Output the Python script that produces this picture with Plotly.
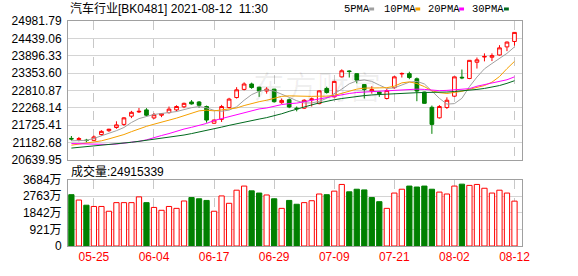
import plotly.graph_objects as go

dates = ["05-20", "05-21", "05-24", "05-25", "05-26", "05-27", "05-28", "05-31",
         "06-01", "06-02", "06-03", "06-04", "06-07", "06-08", "06-09", "06-10", "06-11",
         "06-15", "06-16", "06-17", "06-18", "06-21", "06-22", "06-23", "06-24", "06-25",
         "06-28", "06-29", "06-30", "07-01", "07-02", "07-05", "07-06", "07-07", "07-08",
         "07-09", "07-12", "07-13", "07-14", "07-15", "07-16", "07-19", "07-20", "07-21",
         "07-22", "07-23", "07-26", "07-27", "07-28", "07-29", "07-30", "08-02", "08-03",
         "08-04", "08-05", "08-06", "08-09", "08-10", "08-11", "08-12"]

opens = [21307.7, 21271.4, 21253.2, 21247.2, 21428.6, 21549.6, 21649.4, 21746.2, 22003.2, 22136.3,
         22199.8, 21948.8, 22033.4, 22115.1, 22199.8, 22296.5, 22447.7, 22447.7, 22305.6, 21782.4,
         21903.4, 22275.4, 22586.8, 22840.8, 23010.2, 22910.4, 22789.4, 22849.9, 22426.6, 22517.3,
         22254.2, 22254.2, 22517.3, 22396.3, 22871.1, 22608.0, 23234.0, 23418.4, 23333.8, 22992.0,
         22795.5, 22759.2, 22556.6, 22895.3, 23324.7, 23333.8, 23173.5, 22759.2, 22281.4, 21951.8,
         22275.4, 22629.2, 23221.9, 23182.6, 23690.6, 23853.9, 23847.8, 23917.4, 24171.4, 24340.8]
highs = [21383.3, 21353.0, 21292.6, 21398.4, 21564.7, 21610.1, 21842.9, 21973.0, 22169.5, 22260.2,
         22254.2, 22103.0, 22093.9, 22305.6, 22344.9, 22426.6, 22508.2, 22478.0, 22335.8, 21897.4,
         22357.0, 22577.8, 22910.4, 23061.6, 23052.5, 22925.5, 22910.4, 22859.0, 22556.6, 22556.6,
         22305.6, 22532.4, 22586.8, 22810.6, 22925.5, 23107.0, 23469.8, 23439.6, 23342.8, 23001.1,
         22940.6, 22774.3, 22859.0, 23264.2, 23370.0, 23394.2, 23212.8, 22768.3, 22335.8, 22351.0,
         22592.9, 23243.0, 23463.8, 23757.1, 23838.8, 23968.8, 23968.8, 24225.8, 24340.8, 24634.1]
lows = [21238.1, 21217.0, 21186.7, 21232.1, 21389.3, 21510.3, 21610.1, 21700.8, 21942.7, 22103.0,
        22003.2, 21912.5, 21973.0, 22084.8, 22154.4, 22254.2, 22366.1, 22266.3, 21800.6, 21761.3,
        21821.8, 22245.1, 22556.6, 22810.6, 22859.0, 22608.0, 22707.8, 22426.6, 22387.2, 22254.2,
        22154.4, 22230.0, 22305.6, 22375.2, 22707.8, 22592.9, 23212.8, 23212.8, 23031.4, 22556.6,
        22707.8, 22608.0, 22526.4, 22859.0, 23212.8, 23161.4, 22471.9, 22396.3, 21449.8, 21927.6,
        22230.0, 22608.0, 23161.4, 23161.4, 23494.0, 23717.8, 23726.9, 23899.2, 24038.4, 24210.7]
closes = [21289.5, 21301.6, 21241.1, 21353.0, 21528.4, 21595.0, 21731.0, 21951.8, 22124.2, 22154.4,
          22033.4, 22048.6, 22084.8, 22224.0, 22305.6, 22405.4, 22387.2, 22344.9, 21882.2, 21882.2,
          22305.6, 22538.4, 22828.8, 23010.2, 22901.3, 22789.4, 22849.9, 22456.8, 22496.1, 22290.5,
          22236.1, 22502.2, 22541.5, 22795.5, 22744.1, 23091.8, 23424.5, 23400.3, 23131.2, 22840.8,
          22834.8, 22707.8, 22804.6, 23234.0, 23339.8, 23212.8, 22789.4, 22405.4, 21746.2, 22305.6,
          22502.2, 23234.0, 23203.7, 23751.1, 23766.2, 23872.0, 23899.2, 24141.2, 24322.6, 24625.0]

ma5 = [21232.1, 21238.1, 21247.2, 21307.7, 21383.3, 21458.9, 21549.6, 21649.4, 21806.6, 21927.6,
       22003.2, 22057.6, 22087.9, 22112.1, 22148.4, 22208.8, 22269.3, 22305.6, 22263.3, 22184.6,
       22157.4, 22193.7, 22296.5, 22502.2, 22677.6, 22780.4, 22828.8, 22789.4, 22698.7, 22592.9,
       22487.0, 22417.5, 22417.5, 22465.9, 22562.6, 22698.7, 22849.9, 23016.2, 23107.0, 23137.2,
       23091.8, 22976.9, 22871.1, 22889.2, 22976.9, 23067.6, 23091.8, 23013.2, 22789.4, 22562.6,
       22381.2, 22396.3, 22562.6, 22925.5, 23227.9, 23485.0, 23651.3, 23817.6, 23968.8, 24171.4]
ma10 = [21096.0, 21126.2, 21156.5, 21186.7, 21232.1, 21292.6, 21353.0, 21428.6, 21519.4, 21610.1,
        21685.7, 21752.2, 21812.7, 21867.1, 21942.7, 22018.3, 22093.9, 22169.5, 22190.7, 22169.5,
        22199.8, 22230.0, 22260.2, 22335.8, 22405.4, 22456.8, 22502.2, 22562.6, 22623.1, 22638.2,
        22629.2, 22623.1, 22623.1, 22629.2, 22629.2, 22653.4, 22713.8, 22789.4, 22849.9, 22880.2,
        22895.3, 22889.2, 22895.3, 22940.6, 23046.5, 23076.7, 23025.3, 22928.5, 22798.5, 22739.0,
        22713.8, 22738.0, 22780.4, 22843.9, 22892.3, 22961.8, 23067.6, 23243.0, 23491.0, 23717.8]
ma20 = [21147.4, 21141.4, 21132.3, 21126.2, 21117.2, 21117.2, 21132.3, 21156.5, 21186.7, 21217.0,
        21262.3, 21337.9, 21398.4, 21458.9, 21534.5, 21601.0, 21655.4, 21715.9, 21776.4, 21867.1,
        21927.6, 21988.1, 22048.6, 22124.2, 22169.5, 22230.0, 22260.2, 22320.7, 22366.1, 22396.3,
        22411.4, 22456.8, 22502.2, 22547.5, 22592.9, 22638.2, 22683.6, 22713.8, 22744.1, 22759.2,
        22774.3, 22780.4, 22789.4, 22804.6, 22819.7, 22840.8, 22849.9, 22840.8, 22810.6, 22801.5,
        22810.6, 22834.8, 22843.9, 22865.0, 22940.6, 22992.0, 23037.4, 23082.8, 23143.2, 23234.0]
ma30 = [21005.3, 21026.4, 21044.6, 21065.8, 21086.9, 21111.1, 21132.3, 21156.5, 21186.7, 21217.0,
        21247.2, 21277.4, 21307.7, 21337.9, 21368.2, 21413.5, 21458.9, 21504.2, 21549.6, 21610.1,
        21661.5, 21715.9, 21770.4, 21821.8, 21867.1, 21912.5, 21957.8, 22012.3, 22078.8, 22154.4,
        22230.0, 22296.5, 22357.0, 22417.5, 22471.9, 22517.3, 22556.6, 22592.9, 22623.1, 22647.3,
        22668.5, 22683.6, 22698.7, 22707.8, 22719.9, 22729.0, 22738.1, 22744.1, 22744.1, 22750.1,
        22759.2, 22774.3, 22789.4, 22810.6, 22840.8, 22871.1, 22910.4, 22961.8, 23031.4, 23113.0]

volume_wan = [2850, 2552, 2265, 2196, 2196, 1930, 2408, 2408, 2408, 2727,
              2408, 2142, 1983, 2196, 2089, 2499, 2690, 2621, 2530, 1930,
              2780, 2371, 3099, 3328, 3062, 2940, 2833, 2621, 2089, 2530,
              2318, 2408, 2514, 2887, 2850, 3046, 3418, 3009, 3152, 3115,
              2690, 2461, 2089, 2940, 3152, 3328, 3275, 3328, 3152, 2993,
              2887, 3328, 3434, 3365, 3418, 3206, 2940, 3099, 2940, 2491.5339]
# volume bar colour: "R" = rising (hollow red), "G" = falling (solid green)
volume_dir = ["G", "R", "G", "R", "R", "R", "R", "R", "R", "R",
              "G", "R", "R", "R", "R", "R", "G", "G", "G", "R",
              "R", "R", "R", "R", "G", "G", "R", "G", "R", "G",
              "G", "R", "R", "R", "G", "R", "R", "G", "G", "G",
              "G", "G", "R", "R", "R", "G", "G", "G", "G", "R",
              "R", "R", "G", "R", "R", "R", "R", "R", "R", "R"]

price_ticks = [20639.95, 21182.68, 21725.41, 22268.14, 22810.87, 23353.60, 23896.33, 24439.06, 24981.79]
vol_ticks = [0, 921, 1842, 2763, 3684]
vol_tick_labels = ["0", "921万", "1842万", "2763万", "3684万"]
date_tick_labels = ["05-25", "06-04", "06-17", "06-29", "07-09", "07-21", "08-02", "08-12"]
title_text = "汽车行业[BK0481] 2021-08-12  11:30"
volume_text = "成交量:24915339"
ma_names = ["5PMA", "10PMA", "20PMA", "30PMA"]
ma_colors = ["#a0a0a0", "#f5a000", "#ff00ff", "#006a1e"]

RED = "#ff0000"
GREEN = "#008000"
FONT = "Arial, 'Liberation Sans', 'Noto Sans CJK SC', sans-serif"

x = list(range(1, len(dates) + 1))
tick_idx = [dates.index(d) + 1 for d in date_tick_labels]

fig = go.Figure()
for vals, col in zip([ma5, ma10, ma20, ma30], ma_colors):
    fig.add_trace(go.Scatter(x=x, y=vals, mode="lines", line=dict(color=col, width=1),
                             xaxis="x", yaxis="y", hoverinfo="skip", showlegend=False))
fig.add_trace(go.Candlestick(
    x=x, open=opens, high=highs, low=lows, close=closes,
    increasing=dict(line=dict(color=RED, width=1), fillcolor="#ffffff"),
    decreasing=dict(line=dict(color=GREEN, width=1), fillcolor=GREEN),
    whiskerwidth=0, xaxis="x", yaxis="y", hoverinfo="skip", showlegend=False))
fig.add_trace(go.Bar(
    x=x, y=volume_wan, xaxis="x2", yaxis="y2", showlegend=False, hoverinfo="skip",
    marker=dict(color=["#ffffff" if d == "R" else GREEN for d in volume_dir],
                line=dict(color=[RED if d == "R" else GREEN for d in volume_dir], width=1))))

axis_common = dict(showline=True, mirror=True, linecolor="#a0a0a0", linewidth=1,
                   zeroline=False, ticks="", fixedrange=True)
plot_top, plot_bot = 21, 255
H = 276
W = 578
ph = plot_bot - plot_top
price_dom = [(plot_bot - 165.3) / ph, 1]
vol_dom = [0, (plot_bot - 186) / ph]

fig.update_layout(
    width=W, height=H,
    margin=dict(l=56, r=56, t=plot_top, b=H - plot_bot),
    paper_bgcolor="#ffffff", plot_bgcolor="#ffffff",
    bargap=0.3, showlegend=False,
    font=dict(family=FONT, size=12, color="#000000"),
    xaxis=dict(domain=[0, 1], anchor="y", range=[0.55, 61.0], tickvals=tick_idx,
               showticklabels=False, showgrid=True, gridcolor="#c8c8c8", griddash="dash",
               gridwidth=1, rangeslider=dict(visible=False), **axis_common),
    xaxis2=dict(domain=[0, 1], anchor="y2", range=[0.55, 61.0], tickvals=tick_idx,
                ticktext=date_tick_labels, showticklabels=True,
                tickfont=dict(color=RED, size=12, family=FONT),
                showgrid=True, gridcolor="#c8c8c8", griddash="dash", gridwidth=1, **axis_common),
    yaxis=dict(domain=price_dom, anchor="x", range=[price_ticks[0], price_ticks[-1]],
               tickvals=price_ticks, ticktext=[f"{v:.2f}" for v in price_ticks],
               showgrid=True, gridcolor="#d4d4d4", tickfont=dict(size=12, color="#000000"),
               ticklabelstandoff=3, **axis_common),
    yaxis2=dict(domain=vol_dom, anchor="x2", range=[0, vol_ticks[-1]],
                tickvals=vol_ticks, ticktext=vol_tick_labels,
                showgrid=True, gridcolor="#d4d4d4", tickfont=dict(size=12, color="#000000"),
                ticklabelstandoff=3, **axis_common),
)


def px(xp):
    return (xp - 56) / (W - 112)


def py(yp):
    return (plot_bot - yp) / ph


ann = []
ann.append(dict(text=title_text, x=px(56), y=py(8.5), xref="paper", yref="paper",
                xanchor="left", yanchor="middle", showarrow=False,
                font=dict(size=12, color="#000000", family=FONT)))
ann.append(dict(text=volume_text, x=px(57), y=py(177.5), xref="paper", yref="paper",
                xanchor="left", yanchor="middle", showarrow=False,
                font=dict(size=12, color="#000000", family=FONT)))
ann.append(dict(text="东方财富", x=px(312), y=py(88), xref="paper", yref="paper",
                xanchor="center", yanchor="middle", showarrow=False,
                font=dict(size=32, color="rgba(0,0,0,0.06)", family="'Noto Sans CJK SC'")))
legend_x = [337, 378, 423, 469]
shapes = []
for name, col, lx in zip(ma_names, ma_colors, legend_x):
    w = 6.3 * len(name)
    ann.append(dict(text=name, x=px(lx), y=py(8.5), xref="paper", yref="paper",
                    xanchor="left", yanchor="middle", showarrow=False,
                    font=dict(size=10.5, color="#000000", family="'Liberation Mono', monospace")))
    sx = lx + w + 3
    shapes.append(dict(type="line", xref="paper", yref="paper",
                       x0=px(sx), x1=px(sx + 5), y0=py(8.5), y1=py(8.5),
                       line=dict(color=col, width=3)))
fig.update_layout(annotations=ann, shapes=shapes)

fig.write_html("out.html")
